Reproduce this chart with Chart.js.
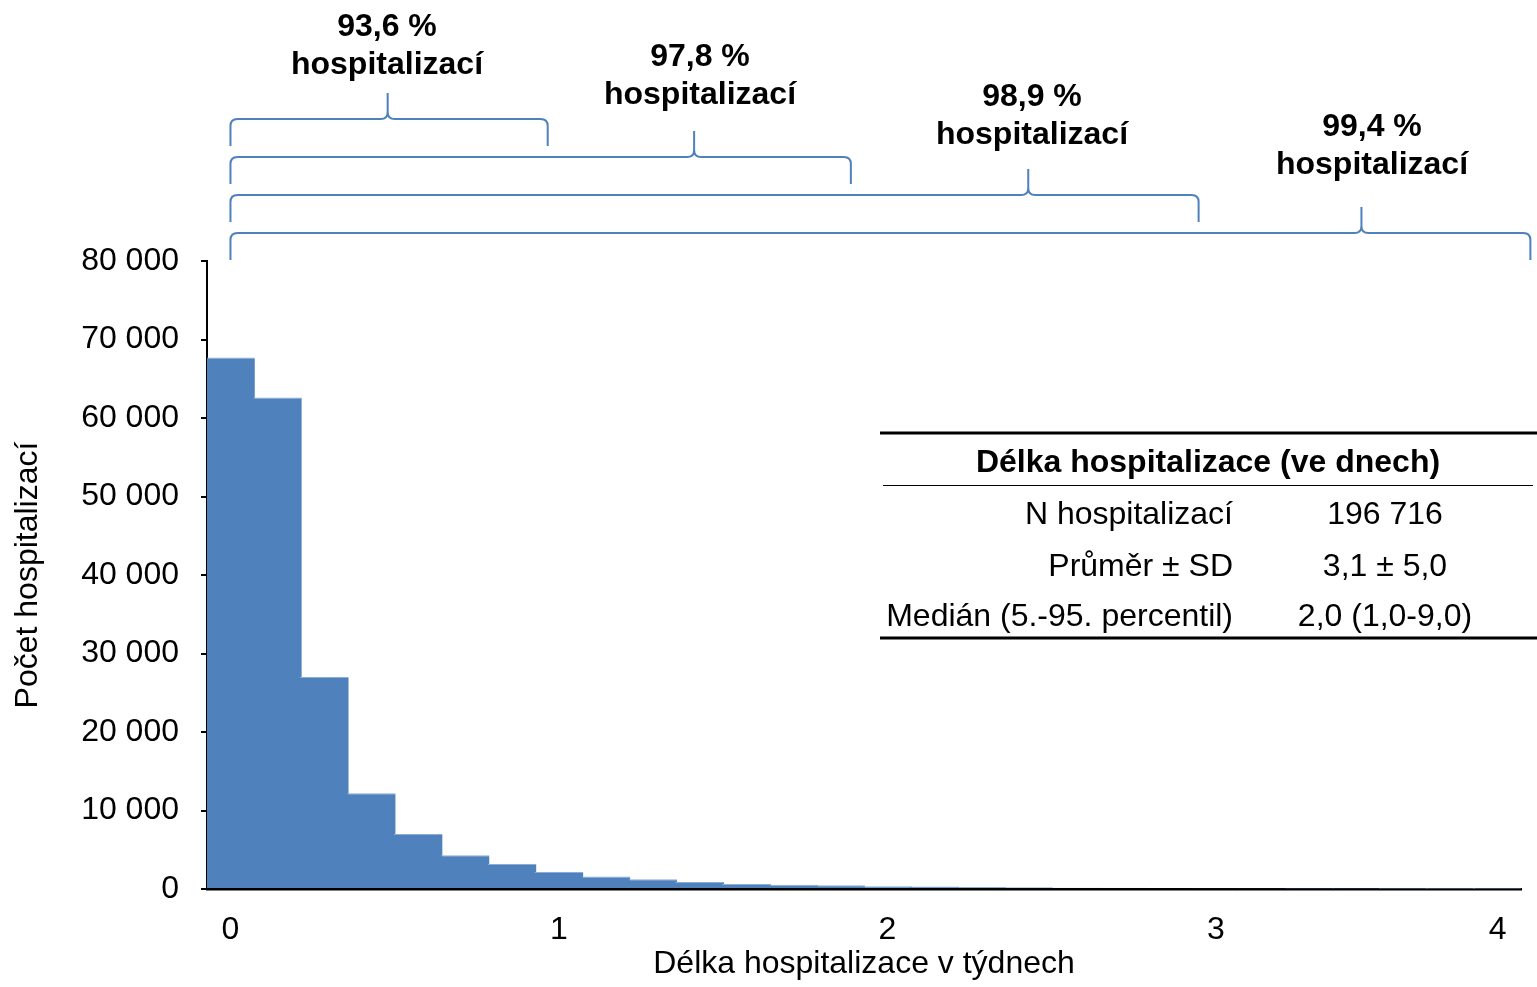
<!DOCTYPE html>
<html>
<head>
<meta charset="utf-8">
<script src="https://cdn.jsdelivr.net/npm/chart.js@4/dist/chart.umd.min.js"></script>
<style>
  html, body { margin: 0; padding: 0; background: #fff; }
  #wrap { width: 1537px; height: 987px; }
</style>
</head>
<body>
<div id="wrap"><canvas id="myChart"></canvas></div>
<script>
// Data
var dayCounts = [67700, 62600, 27000, 12200, 7000, 4300, 3200, 2150, 1600, 1250,
                 900, 650, 550, 470, 350, 330, 240, 220, 160, 150,
                 120, 100, 80, 70, 50, 40, 30, 25];
var weekTickLabels = ['0', '1', '2', '3', '4'];
var weekTickIndex = [0, 7, 14, 21, 27];

// brackets: shared start, own end and peak (in bar index units)
var bracketLabels = ['93,6 %', '97,8 %', '98,9 %', '99,4 %'];
var bracketEnds = [6.76, 13.22, 20.63, 27.7];
var bracketPeaks = [3.35, 9.88, 17.0, 24.1];

var tableTitle = 'Délka hospitalizace (ve dnech)';
var tableRowLabels = ['N hospitalizací', 'Průměr ± SD', 'Medián (5.-95. percentil)'];
var tableRowValues = ['196 716', '3,1 ± 5,0', '2,0 (1,0-9,0)'];

var labels = dayCounts.map(function (v, i) {
    var k = weekTickIndex.indexOf(i);
    return k >= 0 ? weekTickLabels[k] : '';
});

var FONT = "'Liberation Sans', Arial, sans-serif";
var BLUE = '#4F81BD';

// brackets + table drawn on top
var extrasPlugin = {
    id: 'extras',
    afterDraw: function (chart) {
        var ctx = chart.ctx;
        var xs = chart.scales.x;
        var lineY = [119, 157, 195, 233];
        var textY = [27, 57, 97, 127];
        var textX = [387, 700, 1032, 1372];
        var r = 7, down = 27, up = 26;
        ctx.save();
        ctx.strokeStyle = BLUE;
        ctx.lineWidth = 2;
        bracketEnds.forEach(function (end, i) {
            var x1 = xs.getPixelForValue(0);
            var x2 = xs.getPixelForValue(end);
            var xm = xs.getPixelForValue(bracketPeaks[i]);
            var y = lineY[i];
            ctx.beginPath();
            ctx.moveTo(x1, y + down);
            ctx.lineTo(x1, y + r);
            ctx.quadraticCurveTo(x1, y, x1 + r, y);
            ctx.lineTo(xm - r, y);
            ctx.quadraticCurveTo(xm, y, xm, y - r);
            ctx.lineTo(xm, y - up);
            ctx.moveTo(xm, y - r);
            ctx.quadraticCurveTo(xm, y, xm + r, y);
            ctx.lineTo(x2 - r, y);
            ctx.quadraticCurveTo(x2, y, x2, y + r);
            ctx.lineTo(x2, y + down);
            ctx.stroke();

            ctx.fillStyle = '#000';
            ctx.font = 'bold 32px ' + FONT;
            ctx.textAlign = 'center';
            ctx.textBaseline = 'middle';
            ctx.fillText(bracketLabels[i], textX[i], textY[i]);
            ctx.fillText('hospitalizací', textX[i], textY[i] + 38);
        });

        // table
        ctx.strokeStyle = '#000';
        ctx.lineWidth = 3;
        ctx.beginPath();
        ctx.moveTo(880, 433); ctx.lineTo(1537, 433);
        ctx.moveTo(880, 638); ctx.lineTo(1537, 638);
        ctx.stroke();
        ctx.lineWidth = 1;
        ctx.beginPath();
        ctx.moveTo(883, 485.5); ctx.lineTo(1533, 485.5);
        ctx.stroke();

        ctx.fillStyle = '#000';
        ctx.textBaseline = 'middle';
        ctx.font = 'bold 32px ' + FONT;
        ctx.textAlign = 'center';
        ctx.fillText(tableTitle, 1208, 463);
        ctx.font = '32px ' + FONT;
        var rowY = [515, 567, 617];
        tableRowLabels.forEach(function (t, i) {
            ctx.textAlign = 'right';
            ctx.fillText(t, 1233, rowY[i]);
            ctx.textAlign = 'center';
            ctx.fillText(tableRowValues[i], 1385, rowY[i]);
        });
        ctx.restore();
    }
};

var config = {
    type: 'bar',
    data: {
        labels: labels,
        datasets: [{
            data: dayCounts,
            backgroundColor: BLUE,
            borderColor: '#8AACD8',
            borderWidth: { top: 1, left: 0, right: 0, bottom: 0 },
            borderSkipped: false,
            barPercentage: 1.04,
            categoryPercentage: 1.0
        }]
    },
    options: {
        responsive: true,
        maintainAspectRatio: false,
        animation: false,
        layout: { padding: { top: 261, right: 16, bottom: 0, left: 0 } },
        plugins: {
            legend: { display: false },
            tooltip: { enabled: false }
        },
        scales: {
            x: {
                afterFit: function (s) { s.height = 98; },
                grid: { display: false, drawTicks: false },
                border: { display: true, color: '#000', width: 2.5 },
                ticks: {
                    autoSkip: false, maxRotation: 0, padding: 22,
                    color: '#000', font: { family: FONT, size: 32 }
                },
                title: {
                    display: true, text: 'Délka hospitalizace v týdnech',
                    color: '#000', font: { family: FONT, size: 32 },
                    padding: { top: 0, bottom: 4 }
                }
            },
            y: {
                min: 0, max: 80000,
                afterFit: function (s) { s.width = 207; },
                grid: { drawOnChartArea: false, drawTicks: true, tickLength: 6, color: '#000', lineWidth: 2 },
                border: { display: true, color: '#000', width: 2 },
                ticks: {
                    stepSize: 10000, padding: 22, color: '#000',
                    font: { family: FONT, size: 32 },
                    callback: function (v) {
                        return String(v).replace(/\B(?=(\d{3})+(?!\d))/g, ' ');
                    }
                },
                title: {
                    display: true, text: 'Počet hospitalizací',
                    color: '#000', font: { family: FONT, size: 32 },
                    padding: { top: 9, bottom: 0 }
                }
            }
        }
    },
    plugins: [extrasPlugin]
};

var ctx = document.getElementById('myChart').getContext('2d');
new Chart(ctx, config);
</script>
</body>
</html>
